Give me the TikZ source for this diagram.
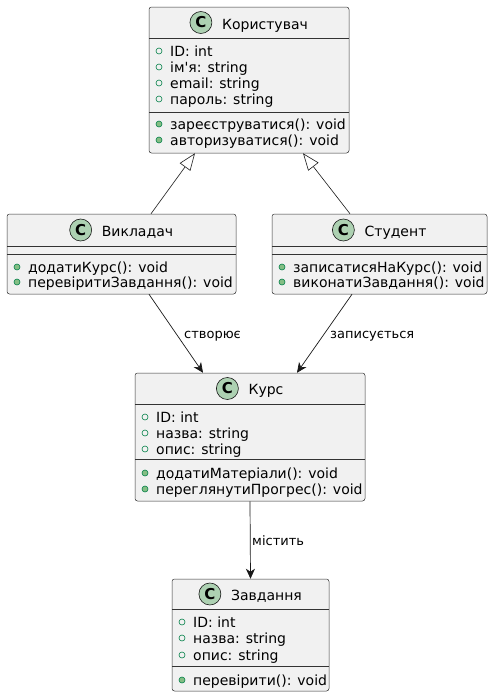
\documentclass[tikz,border=0pt]{standalone}
\usepackage{fontspec}
\setmainfont{DejaVu Sans}
\newfontfamily\plainfont{DejaVu Sans}
\usetikzlibrary{arrows.meta}
\definecolor{boxfill}{HTML}{F1F1F1}
\definecolor{boxline}{HTML}{333333}
\definecolor{arrline}{HTML}{181818}
\definecolor{cfill}{HTML}{ADD1B2}
\definecolor{icline}{HTML}{038048}
\definecolor{icfill}{HTML}{84BE84}
\begin{document}
\begin{tikzpicture}[x=1pt,y=-1pt,
  classbox/.style={draw=boxline,fill=boxfill,rounded corners=2.5pt,line width=0.5pt,inner sep=0pt},
  sepline/.style={draw=boxline,line width=0.5pt},
  cname/.style={inner sep=0pt,anchor=base,font=\fontsize{14}{16}\selectfont},
  cletter/.style={draw=arrline,fill=cfill,line width=0.6pt,circle,minimum size=22pt,inner sep=0pt,font=\fontsize{15}{15}\selectfont\bfseries},
  member/.style={inner sep=0pt,anchor=base west,font=\fontsize{14}{16}\selectfont},
  fieldicon/.style={draw=icline,line width=0.6pt,fill=none},
  methodicon/.style={draw=icline,line width=0.6pt,fill=icfill},
  assoc/.style={draw=arrline,line width=0.7pt,-{Stealth[length=10pt,width=9pt,inset=3pt]}},
  inherit/.style={draw=arrline,line width=0.6pt,-{Triangle[length=17pt,width=13pt,fill=white]}},
  elabel/.style={inner sep=0pt,anchor=base west,font=\fontsize{13}{15}\selectfont}
]
\useasboundingbox (0,0) rectangle (493,697);

% ---------- Користувач
\node[classbox,minimum width=200,minimum height=146] (user) at (249,80) {};
\node[cname] (userN) at (265,29) {Користувач};
\node[cletter] (userC) at ([xshift=-21pt]userN.west |- 0,22.5) {C};
\draw[sepline] (149,38) -- (349,38);
\draw[sepline] (149,112) -- (349,112);
\draw[fieldicon] (159,51) circle (3);
\node[member] (u1) at (170,56) {ID: int};
\draw[fieldicon] (159,67) circle (3);
\node[member] (u2) at (170,72) {\plainfont ім'я: string};
\draw[fieldicon] (159,83) circle (3);
\node[member] (u3) at (170,88) {email: string};
\draw[fieldicon] (159,99) circle (3);
\node[member] (u4) at (170,104) {пароль: string};
\draw[methodicon] (159,124) circle (3);
\node[member] (u5) at (170,129) {зареєструватися(): void};
\draw[methodicon] (159,140) circle (3);
\node[member] (u6) at (170,145) {авторизуватися(): void};

% ---------- Викладач
\node[classbox,minimum width=229,minimum height=80] (teach) at (121.5,254) {};
\node[cname] (teachN) at (137.5,236) {Викладач};
\node[cletter] (teachC) at ([xshift=-21pt]teachN.west |- 0,230) {C};
\draw[sepline] (7,246) -- (236,246);
\draw[sepline] (7,254) -- (236,254);
\draw[methodicon] (17,267) circle (3);
\node[member] (t1) at (28,272) {додатиКурс(): void};
\draw[methodicon] (17,282) circle (3);
\node[member] (t2) at (28,287) {перевіритиЗавдання(): void};

% ---------- Студент
\node[classbox,minimum width=215,minimum height=80] (stud) at (379.5,254) {};
\node[cname] (studN) at (395.5,236) {Студент};
\node[cletter] (studC) at ([xshift=-21pt]studN.west |- 0,230) {C};
\draw[sepline] (272,246) -- (487,246);
\draw[sepline] (272,254) -- (487,254);
\draw[methodicon] (282,267) circle (3);
\node[member] (s1) at (293,272) {записатисяНаКурс(): void};
\draw[methodicon] (282,282) circle (3);
\node[member] (s2) at (293,287) {виконатиЗавдання(): void};

% ---------- Курс
\node[classbox,minimum width=230,minimum height=128] (course) at (250,437) {};
\node[cname] (courseN) at (266,394) {Курс};
\node[cletter] (courseC) at ([xshift=-21pt]courseN.west |- 0,388.5) {C};
\draw[sepline] (135,404) -- (365,404);
\draw[sepline] (135,459) -- (365,459);
\draw[fieldicon] (145,417) circle (3);
\node[member] (k1) at (156,422) {ID: int};
\draw[fieldicon] (145,433) circle (3);
\node[member] (k2) at (156,438) {назва: string};
\draw[fieldicon] (145,449) circle (3);
\node[member] (k3) at (156,454) {опис: string};
\draw[methodicon] (145,473) circle (3);
\node[member] (k4) at (156,478) {додатиМатеріали(): void};
\draw[methodicon] (145,489) circle (3);
\node[member] (k5) at (156,494) {переглянутиПрогрес(): void};

% ---------- Завдання
\node[classbox,minimum width=157,minimum height=112] (task) at (250.5,635) {};
\node[cname] (taskN) at (266.5,600) {Завдання};
\node[cletter] (taskC) at ([xshift=-21pt]taskN.west |- 0,594) {C};
\draw[sepline] (172,609) -- (329,609);
\draw[sepline] (172,666) -- (329,666);
\draw[fieldicon] (182,622) circle (3);
\node[member] (z1) at (193,627) {ID: int};
\draw[fieldicon] (182,638) circle (3);
\node[member] (z2) at (193,643) {назва: string};
\draw[fieldicon] (182,655) circle (3);
\node[member] (z3) at (193,660) {опис: string};
\draw[methodicon] (182,680) circle (3);
\node[member] (z4) at (193,685) {перевірити(): void};

% ---------- connectors
\draw[inherit] ([xshift=29.5pt]teach.north) -- ([xshift=-54pt]user.south);
\draw[inherit] ([xshift=-29.5pt]stud.north) -- ([xshift=54pt]user.south);
\draw[assoc] ([xshift=27.5pt]teach.south) -- ([xshift=-47pt]course.north);
\draw[assoc] ([xshift=-27.5pt]stud.south) -- ([xshift=47pt]course.north);
\draw[assoc] (course.south) -- (task.north);

\node[elabel] (l1) at (184,338) {створює};
\node[elabel] (l2) at (330,338) {записується};
\node[elabel] (l3) at (252,545) {містить};
\end{tikzpicture}
\end{document}
